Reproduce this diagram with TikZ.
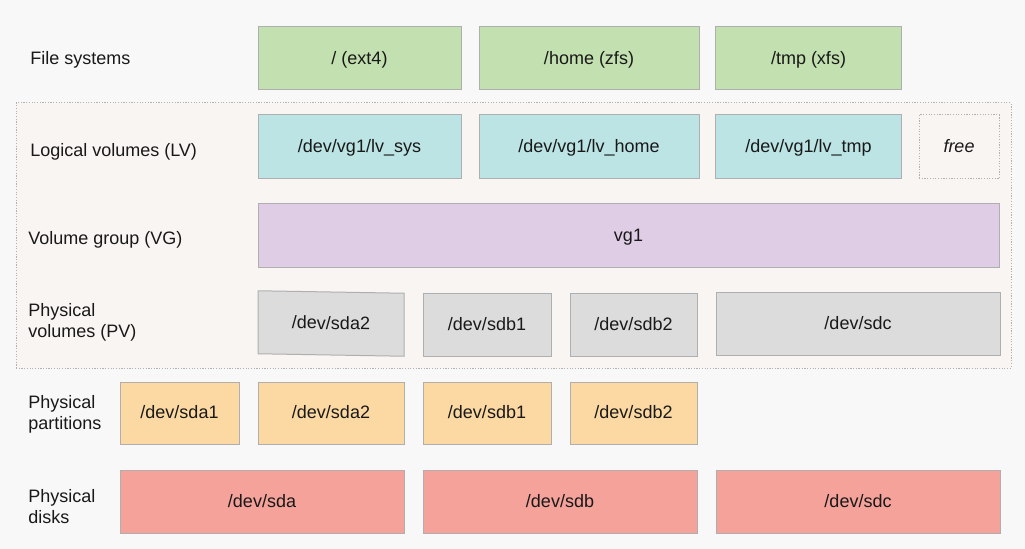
\documentclass[tikz,border=0pt]{standalone}
\usepackage{fontspec}
\setmainfont{Liberation Sans}
\usepackage{tikz}
\newlength{\px}
\setlength{\px}{0.75pt}
\definecolor{pagebg}{RGB}{248,248,248}
\definecolor{lvmbg}{RGB}{249,245,243}
\definecolor{fscol}{RGB}{195,224,176}
\definecolor{lvcol}{RGB}{188,228,228}
\definecolor{vgcol}{RGB}{223,205,229}
\definecolor{pvcol}{RGB}{220,220,220}
\definecolor{partcol}{RGB}{252,217,162}
\definecolor{diskcol}{RGB}{245,162,154}
\definecolor{edgecol}{RGB}{175,175,175}
\tikzset{
    x=\px, y=-\px, % one unit is one pixel of the original layout
    }

\begin{document}
\begin{tikzpicture}[
every node/.style={font=\fontsize{13.5}{15.75}\selectfont, text=black!90},
box/.style={rectangle, draw=edgecol, line width=1\px, inner sep=0pt, text height=0.88em, text depth=0pt},
fsbox/.style={box, fill=fscol, minimum height=63\px},
lvbox/.style={box, fill=lvcol, minimum height=64\px},
vgbox/.style={box, fill=vgcol, minimum height=63\px},
pvbox/.style={box, fill=pvcol, minimum height=63\px},
partbox/.style={box, fill=partcol, minimum height=62\px},
diskbox/.style={box, fill=diskcol, minimum height=63\px},
dotbox/.style={rectangle, draw=black!30, line width=1\px, dash pattern=on 1.2\px off 1.5\px, inner sep=0pt},
rowlabel/.style={anchor=west, align=left, inner sep=0pt},
]
\fill[pagebg] (0,0) rectangle (1025,549);
\node[dotbox, fill=lvmbg, minimum width=995\px, minimum height=265\px] (lvm) at (513.5,235.5) {};

% row labels
\node[rowlabel] (lblfs) at (30,60) {File systems};
\node[rowlabel] (lbllv) at (30,152) {Logical volumes (LV)};
\node[rowlabel] (lblvg) at (28,240) {Volume group (VG)};
\node[rowlabel] (lblpv) at (28,322) {Physical\\volumes (PV)};
\node[rowlabel] (lblpart) at (28,414) {Physical\\partitions};
\node[rowlabel] (lbldisk) at (28,507) {Physical\\disks};

% file systems
\node[fsbox, minimum width=203\px] (fsroot) at (359.5,58.5) {/ (ext4)};
\node[fsbox, minimum width=220\px] (fshome) at (589,58.5) {/home (zfs)};
\node[fsbox, minimum width=186\px] (fstmp) at (808.5,58.5) {/tmp (xfs)};

% logical volumes
\node[lvbox, minimum width=203\px] (lvsys) at (359.5,147) {/dev/vg1/lv\_sys};
\node[lvbox, minimum width=220\px] (lvhome) at (589,147) {/dev/vg1/lv\_home};
\node[lvbox, minimum width=186\px] (lvtmp) at (808.5,147) {/dev/vg1/lv\_tmp};
\node[dotbox, minimum width=80\px, minimum height=64\px, text height=0.88em, text depth=0pt] (lvfree) at (959,147) {\itshape free};

% volume group
\node[vgbox, minimum width=741\px] (vg) at (628.5,235.5) {vg1};

% physical volumes
\node[pvbox, minimum width=146\px, yslant=-0.017] (pvsda) at (331,323.5) {/dev/sda2};
\node[pvbox, minimum width=128\px] (pvsdb1) at (487,324.5) {/dev/sdb1};
\node[pvbox, minimum width=127\px] (pvsdb2) at (633.5,324.5) {/dev/sdb2};
\node[pvbox, minimum width=284\px] (pvsdc) at (858,323.5) {/dev/sdc};

% partitions
\node[partbox, minimum width=119\px] (ptsda1) at (179.5,413) {/dev/sda1};
\node[partbox, minimum width=146\px] (ptsda2) at (331,413) {/dev/sda2};
\node[partbox, minimum width=128\px] (ptsdb1) at (487,413) {/dev/sdb1};
\node[partbox, minimum width=127\px] (ptsdb2) at (633.5,413) {/dev/sdb2};

% disks
\node[diskbox, minimum width=284\px] (dksda) at (262,501.5) {/dev/sda};
\node[diskbox, minimum width=274\px] (dksdb) at (560,501.5) {/dev/sdb};
\node[diskbox, minimum width=284\px] (dksdc) at (858,501.5) {/dev/sdc};
\end{tikzpicture}
\end{document}
